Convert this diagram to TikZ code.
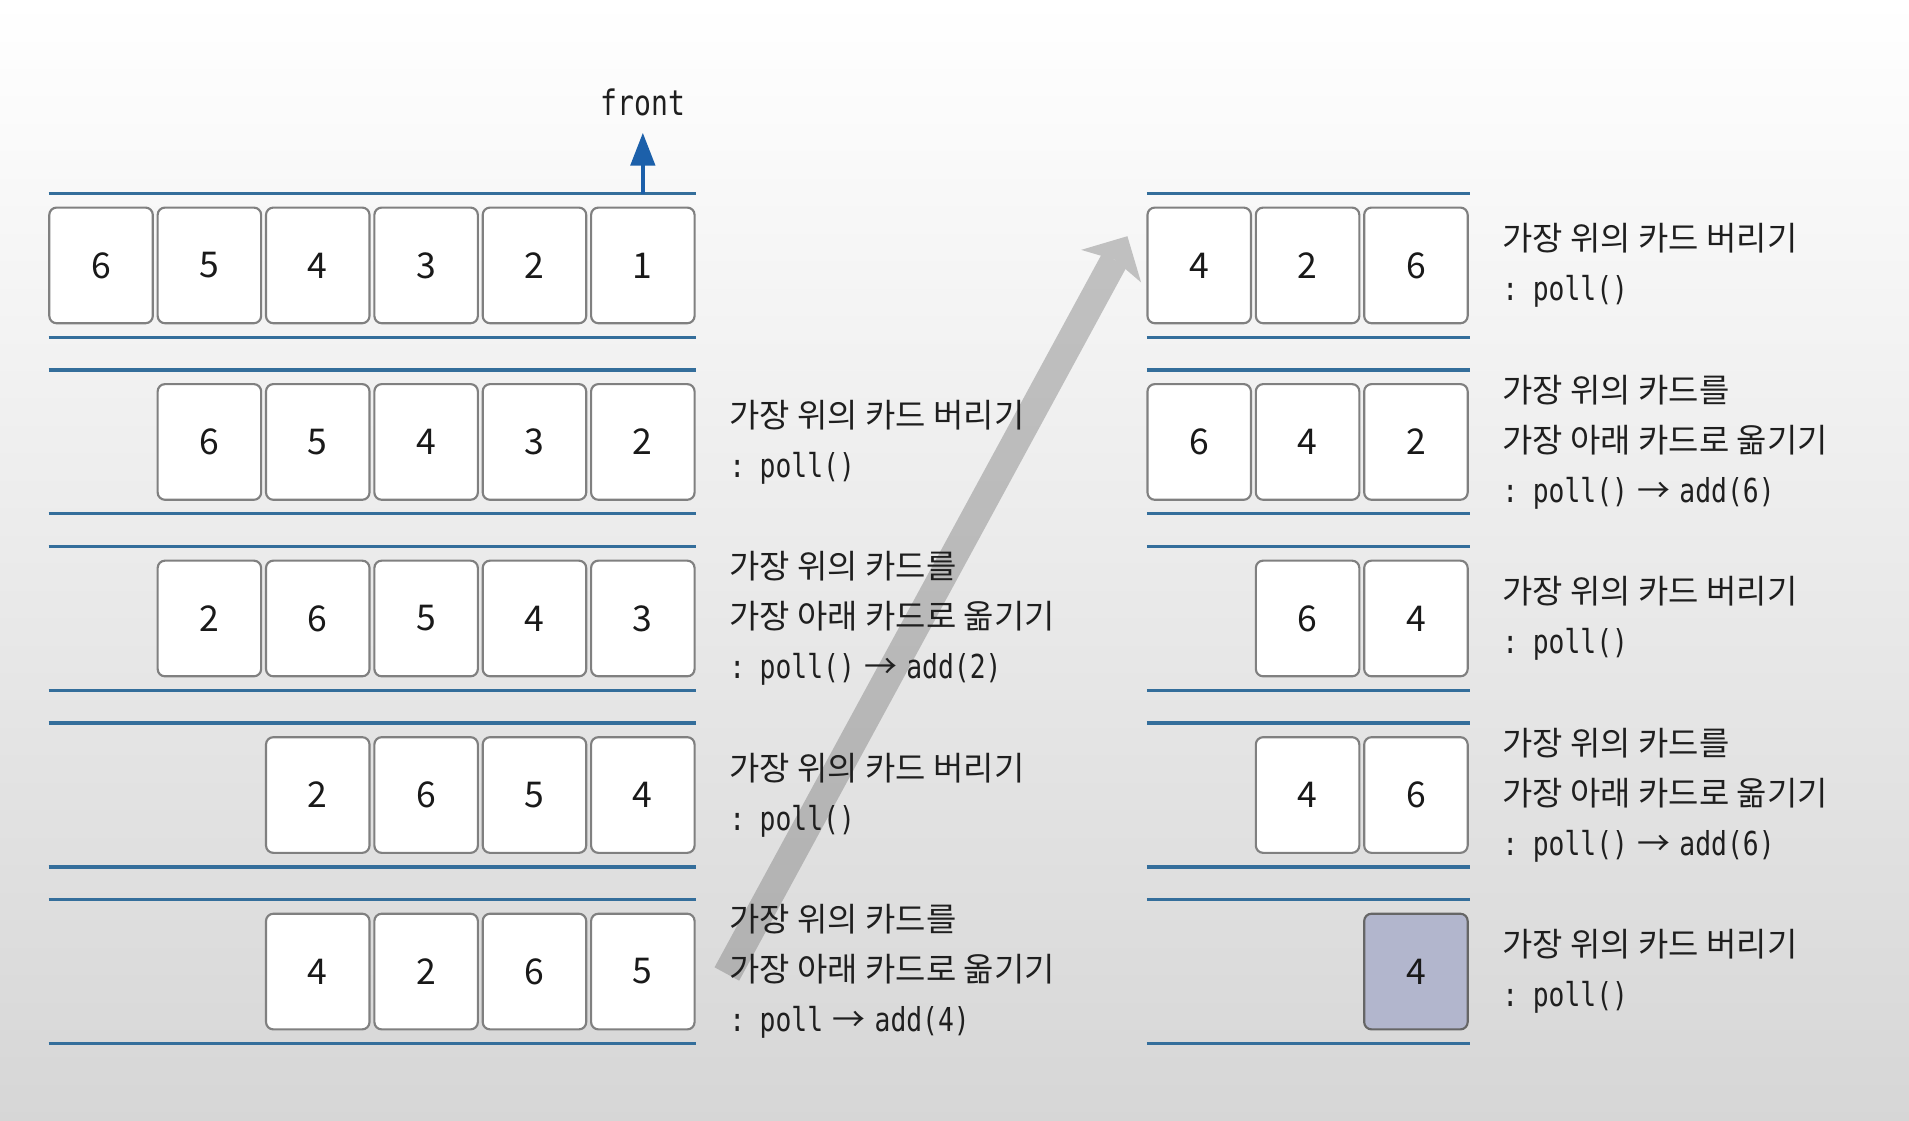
\documentclass[tikz,border=0pt]{standalone}
\usepackage{fontspec}
\setmainfont{Noto Sans CJK KR}
\newfontfamily\codefont{DejaVu Sans Mono}[FakeStretch=0.8]
\usetikzlibrary{arrows.meta,positioning}

\definecolor{railblue}{RGB}{52,110,155}
\definecolor{frontblue}{RGB}{28,96,170}
\definecolor{lastgray}{RGB}{178,182,205}
\newcommand{\calltext}[1]{{\codefont\spaceskip=0.28em #1}}
\newcommand{\thento}{{\rmfamily →}}

\begin{document}
\begin{tikzpicture}[
    card/.style={draw=black!50, fill=white, rounded corners=0.06cm, line width=0.5pt,
      minimum width=0.85cm, minimum height=0.95cm, inner sep=0pt,
      font=\fontsize{8.3pt}{8.3pt}\selectfont, text=black!90},
    rail/.style={railblue, line width=0.8pt},
    desc/.style={align=left, inner sep=0pt, font=\fontsize{7.7pt}{11.66pt}\selectfont, text=black!88},
  ]
  % Background
  \shade[top color=white, middle color=black!4, bottom color=black!16] (0,0) rectangle (15.68,9.20);
  \useasboundingbox (0,0) rectangle (15.68,9.20);

  % Big gray arrow (left column to right column)
  \coordinate (G0) at (5.97,1.20);
  \coordinate (G1) at (9.26,7.26);
  \begin{scope}[transparency group, opacity=0.45]
    \draw[black!50, line width=0.23cm, -{Stealth[length=0.28cm, width=0.56cm, inset=0.06cm, line width=0pt]}] (G0) -- (G1);
  \end{scope}

  % Rails, left column
  \draw[rail] (0.40,7.61) -- (5.72,7.61) (0.40,6.43) -- (5.72,6.43);
  \draw[rail] (0.40,6.16) -- (5.72,6.16) (0.40,4.98) -- (5.72,4.98);
  \draw[rail] (0.40,4.71) -- (5.72,4.71) (0.40,3.53) -- (5.72,3.53);
  \draw[rail] (0.40,3.26) -- (5.72,3.26) (0.40,2.08) -- (5.72,2.08);
  \draw[rail] (0.40,1.81) -- (5.72,1.81) (0.40,0.63) -- (5.72,0.63);

  % Rails, right column
  \draw[rail] (9.42,7.61) -- (12.07,7.61) (9.42,6.43) -- (12.07,6.43);
  \draw[rail] (9.42,6.16) -- (12.07,6.16) (9.42,4.98) -- (12.07,4.98);
  \draw[rail] (9.42,4.71) -- (12.07,4.71) (9.42,3.53) -- (12.07,3.53);
  \draw[rail] (9.42,3.26) -- (12.07,3.26) (9.42,2.08) -- (12.07,2.08);
  \draw[rail] (9.42,1.81) -- (12.07,1.81) (9.42,0.63) -- (12.07,0.63);

  % Front pointer
  \coordinate (F) at (5.28,7.61);
  \node[anchor=base, inner sep=0pt, text=black!88, font=\fontsize{8.2pt}{8.2pt}\selectfont] (front) at (5.28,8.255) {\calltext{front}};
  \draw[frontblue, line width=0.9pt, -{Triangle[length=0.27cm, width=0.2cm]}, shorten >=0.135cm] (F) -- (front.south);

  % Left column, row 1
  \node[card] (L11) at (0.83,7.02) {6};
  \node[card] (L12) at (1.72,7.02) {5};
  \node[card] (L13) at (2.61,7.02) {4};
  \node[card] (L14) at (3.50,7.02) {3};
  \node[card] (L15) at (4.39,7.02) {2};
  \node[card] (L16) at (5.28,7.02) {1};

  % Left column, row 2
  \node[card] (L22) at (1.72,5.57) {6};
  \node[card] (L23) at (2.61,5.57) {5};
  \node[card] (L24) at (3.50,5.57) {4};
  \node[card] (L25) at (4.39,5.57) {3};
  \node[card] (L26) at (5.28,5.57) {2};
  \node[desc, right=0.27cm of L26] (T2) {가장 위의 카드 버리기\\\calltext{: poll()}};

  % Left column, row 3
  \node[card] (L32) at (1.72,4.12) {2};
  \node[card] (L33) at (2.61,4.12) {6};
  \node[card] (L34) at (3.50,4.12) {5};
  \node[card] (L35) at (4.39,4.12) {4};
  \node[card] (L36) at (5.28,4.12) {3};
  \node[desc, right=0.27cm of L36] (T3) {가장 위의 카드를\\가장 아래 카드로 옮기기\\\calltext{: poll() \thento{} add(2)}};

  % Left column, row 4
  \node[card] (L43) at (2.61,2.67) {2};
  \node[card] (L44) at (3.50,2.67) {6};
  \node[card] (L45) at (4.39,2.67) {5};
  \node[card] (L46) at (5.28,2.67) {4};
  \node[desc, right=0.27cm of L46] (T4) {가장 위의 카드 버리기\\\calltext{: poll()}};

  % Left column, row 5
  \node[card] (L53) at (2.61,1.22) {4};
  \node[card] (L54) at (3.50,1.22) {2};
  \node[card] (L55) at (4.39,1.22) {6};
  \node[card] (L56) at (5.28,1.22) {5};
  \node[desc, right=0.27cm of L56] (T5) {가장 위의 카드를\\가장 아래 카드로 옮기기\\\calltext{: poll \thento{} add(4)}};

  % Right column, row 1
  \node[card] (R11) at (9.85,7.02) {4};
  \node[card] (R12) at (10.74,7.02) {2};
  \node[card] (R13) at (11.63,7.02) {6};
  \node[desc, right=0.27cm of R13] (U1) {가장 위의 카드 버리기\\\calltext{: poll()}};

  % Right column, row 2
  \node[card] (R21) at (9.85,5.57) {6};
  \node[card] (R22) at (10.74,5.57) {4};
  \node[card] (R23) at (11.63,5.57) {2};
  \node[desc, right=0.27cm of R23] (U2) {가장 위의 카드를\\가장 아래 카드로 옮기기\\\calltext{: poll() \thento{} add(6)}};

  % Right column, row 3
  \node[card] (R32) at (10.74,4.12) {6};
  \node[card] (R33) at (11.63,4.12) {4};
  \node[desc, right=0.27cm of R33] (U3) {가장 위의 카드 버리기\\\calltext{: poll()}};

  % Right column, row 4
  \node[card] (R42) at (10.74,2.67) {4};
  \node[card] (R43) at (11.63,2.67) {6};
  \node[desc, right=0.27cm of R43] (U4) {가장 위의 카드를\\가장 아래 카드로 옮기기\\\calltext{: poll() \thento{} add(6)}};

  % Right column, row 5 (last card)
  \node[card, fill=lastgray, draw=black!60] (R53) at (11.63,1.22) {4};
  \node[desc, right=0.27cm of R53] (U5) {가장 위의 카드 버리기\\\calltext{: poll()}};
\end{tikzpicture}
\end{document}
